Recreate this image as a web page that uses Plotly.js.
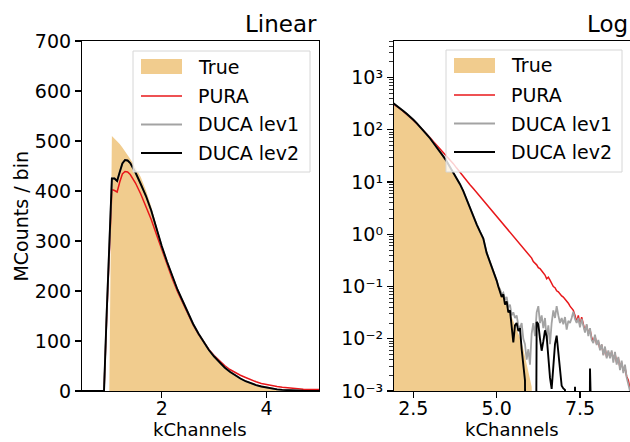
<!DOCTYPE html>
<html><head><meta charset="utf-8">
<script src="https://cdn.plot.ly/plotly-3.0.1.min.js"></script>
<style>html,body{margin:0;padding:0;background:#fff;} #chart{width:630px;height:442px;}</style>
</head><body><div id="chart"></div>
<script>
// bin centres (kChannels)
const kChannels = [
  0.4,0.5,0.6,0.7,0.8,0.9,
  0.95,1.0,1.05,1.1,1.15,1.2,1.25,1.3,1.35,1.4,1.45,1.5,
  1.6,1.7,1.8,1.9,2.0,2.1,2.2,2.3,2.4,2.5,
  2.6,2.7,2.8,2.9,3.0,3.1,3.2,3.3,3.4,3.5,
  3.6,3.7,3.8,3.9,4.0,4.1,4.2,4.3,4.4,4.5,
  4.6,4.7,4.8,4.9,5.0,
  5.05,5.1,5.15,5.2,5.25,5.3,5.35,5.4,5.45,5.5,
  5.55,5.6,5.65,5.7,5.75,5.8,5.85,5.9,5.95,6.0,
  6.05,6.1,6.15,6.2,6.25,6.3,6.35,6.4,6.45,6.5,
  6.55,6.6,6.65,6.7,6.75,6.8,6.85,6.9,6.95,7.0,
  7.05,7.1,7.15,7.2,7.25,7.3,7.35,7.4,7.45,7.5,
  7.55,7.6,7.65,7.7,7.75,7.8,7.85,7.9,7.95,8.0,
  8.05,8.1,8.15,8.2,8.25,8.3,8.35,8.4,8.45,8.5,
  8.55,8.6,8.65,8.7,8.75,8.8,8.85,8.9,8.95,9.0
];
// MCounts / bin
const trueCounts = [
  0,0,0,0,0,0,
  0,0,510,505,500,494,487,480,472,464,456,447,
  428,401,369,330,289,257,228,201,178,154,
  132,113,96,81,68,56,46,38,30.5,24.5,
  19.2,15,11.6,8.9,6.6,4.6,3.2,2.24,1.55,1.1,
  0.79,0.5,0.32,0.21,0.138,
  0.115,0.0955,0.0794,0.0676,0.0562,0.0479,0.0398,0.0339,0.0282,0.0234,
  0.0195,0.0162,0.0132,0.0107,0.0087,0.0063,0.0047,0.0034,0.0024,0.0017,
  0.0012,0,0,0,0,0,0,0,0,0,
  0,0,0,0,0,0,0,0,0,0,
  0,0,0,0,0,0,0,0,0,0,
  0,0,0,0,0,0,0,0,0,0,
  0,0,0,0,0,0,0,0,0,0,
  0,0,0,0,0,0,0,0,0,0
];
const puraCounts = [
  0,0,0,0,0,0,
  145,280,403,401,398,418,434,439,438,433,425,416,
  394,370,343,313,283,253,225,199,176,153,
  132,114,98,83,71,60,51,43,36.5,31.5,
  27,22.5,18.5,15.2,12.6,10.7,8.9,7.5,6.3,5.2,
  4.4,3.7,3.1,2.6,2.15,
  1.95,1.78,1.66,1.51,1.38,1.26,1.17,1.07,0.98,0.91,
  0.83,0.74,0.71,0.63,0.59,0.54,0.48,0.45,0.41,0.37,
  0.35,0.30,0.28,0.26,0.23,0.22,0.20,0.18,0.166,0.141,
  0.151,0.132,0.112,0.1,0.095,0.083,0.079,0.071,0.066,0.063,
  0.058,0.054,0.048,0.042,0.038,0.035,0.028,0.021,0.028,0.018,
  0.026,0.019,0.014,0.018,0.0126,0.015,0.0105,0.0089,0.0112,0.0079,
  0.0089,0.0063,0.0076,0.005,0.0066,0.0045,0.0056,0.0045,0.0056,0.004,
  0.0052,0.0035,0.0042,0.0028,0.0035,0.0024,0.0028,0.0019,0.0016,0.0011
];
const ducaLev1Counts = [
  0,0,0,0,0,0,
  153,298,425,425,420,438,455,462,461,456,447,437,
  414,390,361,325,290,259,230,203,180,156,
  134,115,98,82,69,57,47,38.5,31,25,
  19.5,15.2,11.8,9.1,6.7,4.6,3.2,2.24,1.55,1.12,
  0.83,0.44,0.30,0.19,0.13,
  0.1,0.089,0.071,0.076,0.056,0.063,0.04,0.045,0.028,0.032,
  0.025,0.028,0.018,0.016,0.02,0.01,0.0079,0.004,0.0063,0.0032,
  0.0126,0.02,0.0112,0.032,0.042,0.02,0.028,0.016,0.025,0.01,
  0.018,0.0079,0.02,0.035,0.025,0.042,0.028,0.02,0.025,0.019,
  0.026,0.015,0.022,0.02,0.025,0.033,0.024,0.02,0.025,0.0166,
  0.024,0.018,0.0132,0.019,0.0112,0.016,0.0095,0.0083,0.012,0.0076,
  0.0095,0.006,0.0079,0.0048,0.0071,0.0042,0.006,0.0042,0.006,0.0035,
  0.0056,0.0032,0.0045,0.0025,0.0038,0.0022,0.0032,0.0018,0.0014,0.001
];
const ducaLev2Counts = [
  0,0,0,0,0,0,
  153,298,425,425,420,438,455,462,461,456,447,437,
  414,390,361,325,290,259,230,203,180,156,
  134,115,98,82,69,57,47,38.5,31,25,
  19.5,15.2,11.8,9.1,6.7,4.6,3.2,2.24,1.55,1.12,
  0.83,0.44,0.30,0.19,0.13,
  0.1,0.083,0.063,0.071,0.045,0.052,0.032,0.035,0.018,0.0085,
  0.018,0.02,0.014,0.016,0.0063,0.0032,0.0016,0,0,0,
  0,0,0,0.021,0.019,0.01,0.0059,0.0089,0.0145,0.0112,
  0.004,0.0018,0.0011,0.0032,0.0079,0.0115,0.005,0.002,0.00126,0.00112,
  0.00105,0,0,0,0,0,0.0012,0,0,0,
  0,0,0,0,0,0.0027,0,0,0,0,
  0,0,0,0,0,0,0,0,0,0,
  0,0,0,0,0,0,0,0,0,0
];
const seriesNames = ['True','PURA','DUCA lev1','DUCA lev2'];
const panelTitles = ['Linear','Log'];
const xLabel = 'kChannels';
const yLabel = 'MCounts / bin';
const linYTicks = [0,100,200,300,400,500,600,700];
const linXTicks = [2,4];
const logXTicks = [2.5,5.0,7.5];
const logXTickText = ['2.5','5.0','7.5'];
const logYTicks = [0.001,0.01,0.1,1,10,100,1000];
const logYTickText = ['10⁻³','10⁻²','10⁻¹','10⁰','10¹','10²','10³'];

const FONT = 'DejaVu Sans, sans-serif';
const FS = 19;
const colors = {fill:'#f1cc8e', pura:'#e8171a', lev1:'#a3a3a3', lev2:'#000000'};
const widths = {pura:1.5, lev1:1.8, lev2:1.9};

// log axis: clip non-positive counts far below the visible range (like matplotlib)
const clip = a => a.map(v => v > 0 ? v : 1e-9);

function makeTraces(xa, ya, isLog){
  const f = isLog ? clip : (a => a);
  return [
    {x:kChannels, y:f(trueCounts), xaxis:xa, yaxis:ya, type:'scatter', mode:'lines',
     fill:'tozeroy', fillcolor:colors.fill, line:{width:0, color:colors.fill},
     name:seriesNames[0], showlegend:false, hoverinfo:'skip'},
    {x:kChannels, y:f(puraCounts), xaxis:xa, yaxis:ya, type:'scatter', mode:'lines',
     line:{width:widths.pura, color:colors.pura}, name:seriesNames[1], showlegend:false},
    {x:kChannels, y:f(ducaLev1Counts), xaxis:xa, yaxis:ya, type:'scatter', mode:'lines',
     line:{width:widths.lev1, color:colors.lev1}, name:seriesNames[2], showlegend:false},
    {x:kChannels, y:f(ducaLev2Counts), xaxis:xa, yaxis:ya, type:'scatter', mode:'lines',
     line:{width:widths.lev2, color:colors.lev2}, name:seriesNames[3], showlegend:false}
  ];
}

const data = makeTraces('x','y',false).concat(makeTraces('x2','y2',true));

const axCommon = {showgrid:false, zeroline:false, showline:true, linecolor:'#000', linewidth:1.1,
  ticks:'outside', ticklen:6, tickwidth:1.1, tickcolor:'#000',
  tickfont:{family:FONT, size:FS, color:'#000'}};

const minorLog = [];
for (let e = -3; e <= 3; e++) for (let d = 2; d <= 9; d++) minorLog.push(d*Math.pow(10,e));

// ---- legend boxes drawn as shapes + annotations (pixel layout -> paper coords)
const ML = 82, PW = 548, PB = 391, PH = 350;
const px = p => (p - ML) / PW;
const py = p => (PB - p) / PH;
const legendBoxes = [{left:133, top:51, w:177, h:121}, {left:446, top:50, w:176, h:122}];
const rowOffsets = [15.5, 45, 73.5, 102];
const shapes = [];
const annotations = [];
legendBoxes.forEach(b => {
  shapes.push({type:'rect', xref:'paper', yref:'paper', layer:'above',
    x0:px(b.left), x1:px(b.left+b.w), y0:py(b.top+b.h), y1:py(b.top),
    fillcolor:'rgba(255,255,255,0.8)', line:{color:'#d6d6d6', width:1}});
  const sx0 = b.left + 8, sx1 = b.left + 49;
  shapes.push({type:'rect', xref:'paper', yref:'paper', layer:'above',
    x0:px(sx0), x1:px(sx1), y0:py(b.top+rowOffsets[0]+7.5), y1:py(b.top+rowOffsets[0]-7.5),
    fillcolor:colors.fill, line:{width:0}});
  ['pura','lev1','lev2'].forEach((k, i) => {
    const yy = py(b.top + rowOffsets[i+1]);
    shapes.push({type:'line', xref:'paper', yref:'paper', layer:'above',
      x0:px(sx0), x1:px(sx1), y0:yy, y1:yy, line:{color:colors[k], width:widths[k]}});
  });
  seriesNames.forEach((n, i) => {
    annotations.push({text:n, xref:'paper', yref:'paper', x:px(b.left+63), y:py(b.top+rowOffsets[i]),
      xanchor:'left', yanchor:'middle', showarrow:false, font:{family:FONT, size:FS, color:'#000'}});
  });
});

annotations.push(
  {text:panelTitles[0], xref:'paper', yref:'paper', x:0.4325, y:1, xanchor:'right', yanchor:'bottom', yshift:2, showarrow:false, font:{family:FONT, size:23}},
  {text:panelTitles[1], xref:'paper', yref:'paper', x:1, y:1, xanchor:'right', yanchor:'bottom', yshift:2, showarrow:false, font:{family:FONT, size:23}},
  {text:xLabel, xref:'paper', yref:'paper', x:0.2162, y:0, xanchor:'center', yanchor:'bottom', yshift:-50.5, showarrow:false, font:{family:FONT, size:18}},
  {text:xLabel, xref:'paper', yref:'paper', x:0.7847, y:0, xanchor:'center', yanchor:'bottom', yshift:-50.5, showarrow:false, font:{family:FONT, size:18}},
  {text:yLabel, xref:'paper', yref:'paper', x:-0.112, y:0.5, xanchor:'center', yanchor:'middle', textangle:-90, showarrow:false, font:{family:FONT, size:FS}}
);

const layout = {
  width:630, height:442,
  margin:{l:82, r:0, t:41, b:51, pad:0},
  paper_bgcolor:'#fff', plot_bgcolor:'#fff',
  font:{family:FONT, size:FS, color:'#000'},
  showlegend:false,
  xaxis: Object.assign({}, axCommon, {domain:[0,0.4325], range:[0.48,5.0], tickmode:'array', tickvals:linXTicks, mirror:true, anchor:'y', ticklabelstandoff:-6}),
  yaxis: Object.assign({}, axCommon, {domain:[0,1], range:[0,700], tickmode:'array', tickvals:linYTicks, mirror:true, anchor:'x'}),
  xaxis2: Object.assign({}, axCommon, {domain:[0.5693,1], range:[1.92,9.0], tickmode:'array', tickvals:logXTicks, ticktext:logXTickText, mirror:true, anchor:'y2', ticklabelstandoff:-6}),
  yaxis2: Object.assign({}, axCommon, {domain:[0,1], type:'log', range:[-3,3.7], tickmode:'array', tickvals:logYTicks, ticktext:logYTickText, mirror:false, anchor:'x2',
     minor:{tickmode:'array', tickvals:minorLog, ticks:'outside', ticklen:3.5, tickwidth:0.8, tickcolor:'#000'}}),
  shapes: shapes,
  annotations: annotations
};

Plotly.newPlot('chart', data, layout, {staticPlot:true, displayModeBar:false});
</script></body></html>
